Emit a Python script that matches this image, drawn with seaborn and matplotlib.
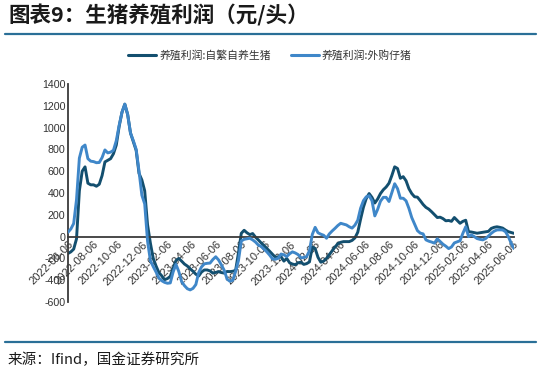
import numpy as np
import pandas as pd
import matplotlib
matplotlib.use("Agg")
import matplotlib.pyplot as plt
import seaborn as sns
from matplotlib.lines import Line2D

# ---- data (weekly, yuan per head) ----
start_date = "2022-06-06"
series_names = ["养殖利润:自繁自养生猪", "养殖利润:外购仔猪"]

self_bred = [
    -155, -140, -115, -20, 420, 600, 640, 490, 475, 475,
    462, 480, 560, 685, 700, 715, 760, 840, 1010, 1140,
    1215, 1120, 950, 870, 790, 580, 520, 420, 110, -60,
    -199, -270, -330, -360, -395, -385, -365, -290, -220, -200,
    -225, -252, -270, -295, -318, -345, -362, -325, -306, -306,
    -315, -335, -328, -322, -330, -335, -320, -321, -318, -310,
    -150, 30, 58, 35, 18, 28, -5, -30, -58, -82,
    -108, -135, -162, -190, -185, -185, -225, -200, -240, -252,
    -258, -240, -235, -255, -248, -232, -95, -110, -190, -235,
    -225, -200, -165, -130, -95, -65, -52, -46, -46, -46,
    -35, -12, 40, 160, 270, 350, 395, 360, 308, 345,
    395, 430, 455, 490, 560, 640, 625, 535, 550, 512,
    440, 395, 365, 362, 330, 295, 268, 252, 228, 202,
    175, 178, 165, 145, 148, 140, 175, 148, 122, 140,
    150, 45, 42, 36, 31, 35, 40, 44, 48, 75,
    85, 90, 85, 78, 60, 45, 38, 30,
]

purchased_piglet = [
    40, 70, 120, 340, 720, 820, 840, 715, 692, 688,
    678, 680, 725, 795, 768, 775, 792, 880, 1020, 1140,
    1215, 1120, 950, 880, 800, 600, 380, 300, -40, -220,
    -275, -325, -380, -405, -420, -428, -425, -325, -255, -320,
    -413, -450, -478, -489, -475, -440, -330, -278, -250, -245,
    -243, -210, -185, -214, -260, -310, -390, -410, -400, -320,
    -220, -40, -25, -20, -15, -30, -50, -78, -90, -115,
    -140, -170, -205, -208, -199, -160, -167, -183, -158, -140,
    -150, -165, -195, -192, -183, -130, 20, 85, 35, 22,
    12, -15, 25, 52, 76, 102, 122, 115, 107, 90,
    78, 105, 150, 260, 330, 365, 375, 330, 190, 250,
    325, 360, 360, 322, 405, 485, 440, 352, 352, 328,
    260, 175, 115, 55, 32, 25, -30, -42, -50, -60,
    -20, -45, -70, -88, -110, -95, -58, -48, -38, 30,
    90, 0, 15, 0, -18, -25, -30, -18, 5, 30,
    50, 61, 62, 61, 45, 0, -60, -110,
]

tick_labels = [
    "2022-06-06", "2022-08-06", "2022-10-06", "2022-12-06", "2023-02-06",
    "2023-04-06", "2023-06-06", "2023-08-06", "2023-10-06", "2023-12-06",
    "2024-02-06", "2024-04-06", "2024-06-06", "2024-08-06", "2024-10-06",
    "2024-12-06", "2025-02-06", "2025-04-06", "2025-06-06",
]
y_ticks = [-600, -400, -200, 0, 200, 400, 600, 800, 1000, 1200, 1400]

title_text = "图表9：生猪养殖利润（元/头）"
source_text = "来源：Ifind，国金证券研究所"

# ---- build frame ----
dates = pd.date_range(start_date, periods=len(self_bred), freq="7D")
df = pd.concat([
    pd.DataFrame({"date": dates, "value": self_bred, "series": series_names[0]}),
    pd.DataFrame({"date": dates, "value": purchased_piglet, "series": series_names[1]}),
])

sns.set_theme(style="white")
plt.rcParams["font.family"] = ["Noto Sans CJK SC", "DejaVu Sans"]

dark = "#134f6f"
light = "#3f87c9"
axis_col = "#3a3a3a"

fig = plt.figure(figsize=(5.41, 3.74), dpi=100)
ax = fig.add_axes([68 / 541, 1 - 302 / 374, (514 - 68) / 541, (302 - 84) / 374])

sns.lineplot(data=df, x="date", y="value", hue="series",
             palette={series_names[0]: dark, series_names[1]: light},
             hue_order=series_names, linewidth=2.1, ax=ax, legend=False)
for ln in ax.get_lines():
    if matplotlib.colors.to_hex(ln.get_color()) == light:
        ln.set_zorder(3)
    else:
        ln.set_zorder(2)

ax.set_xlim(pd.Timestamp(start_date), dates[-1])
ax.set_ylim(-600, 1400)
ax.set_xlabel("")
ax.set_ylabel("")

for s in ["top", "right"]:
    ax.spines[s].set_visible(False)
ax.spines["bottom"].set_position(("data", 0))
for s in ["left", "bottom"]:
    ax.spines[s].set_color(axis_col)
    ax.spines[s].set_linewidth(1.3)
ax.tick_params(axis="both", direction="in", length=3, width=1.0, color=axis_col)
ax.tick_params(axis="y", pad=2)
ax.tick_params(axis="x", pad=2)
ax.grid(False)

ax.set_yticks(y_ticks)
ax.set_yticklabels([str(v) for v in y_ticks])
tick_dates = [pd.Timestamp(t) for t in tick_labels]
ax.set_xticks(tick_dates)
ax.set_xticklabels(tick_labels)
for lab in ax.get_yticklabels():
    lab.set_fontfamily("Liberation Sans")
    lab.set_fontsize(7.7)
    lab.set_color("#333333")
for lab in ax.get_xticklabels():
    lab.set_fontfamily("Liberation Sans")
    lab.set_fontsize(8)
    lab.set_color("#333333")
    lab.set_rotation(45)
    lab.set_ha("right")
    lab.set_va("top")
    lab.set_rotation_mode("anchor")

# legend
handles = [Line2D([], [], color=dark, lw=2.2), Line2D([], [], color=light, lw=2.2)]
fig.legend(handles, series_names, loc="center", bbox_to_anchor=(270 / 541, 1 - 55 / 374),
           ncol=2, frameon=False, fontsize=7.8, handlelength=2.6, handletextpad=0.3,
           columnspacing=1.8, labelcolor="#333333")

# title & decorations
fig.text(8 / 541, 1 - 15 / 374, title_text, fontsize=15.5, fontweight="bold",
         color="#1a1a1a", ha="left", va="center")
fig.add_artist(Line2D([5 / 541, 536 / 541], [1 - 34 / 374, 1 - 34 / 374],
                      color="#2a6f97", lw=1.6, transform=fig.transFigure))
fig.add_artist(Line2D([5 / 541, 536 / 541], [1 - 342 / 374, 1 - 342 / 374],
                      color="#2a6f97", lw=1.6, transform=fig.transFigure))
fig.text(8 / 541, 1 - 360 / 374, source_text, fontsize=10.5, color="#1a1a1a",
         ha="left", va="center")

fig.savefig("out.png", dpi=100)
